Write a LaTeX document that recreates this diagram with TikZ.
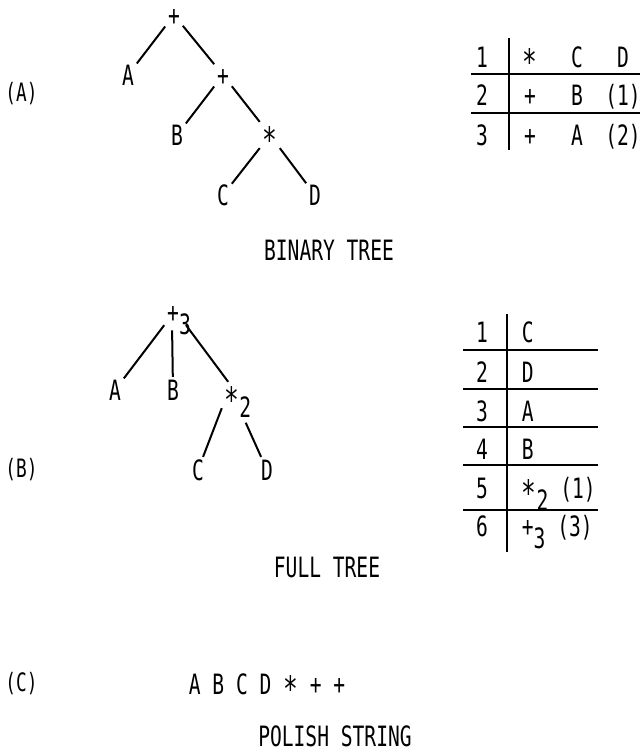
\documentclass[tikz,border=0pt]{standalone}
\usepackage{fontspec}
\setmainfont{DejaVu Sans Mono}[FakeStretch=0.7]
\usetikzlibrary{positioning}

\newcommand{\lowstar}{\raisebox{-0.25em}{\scalebox{1.25}{*}}}
\newcommand{\opsub}[2]{#1\raisebox{-0.43em}{#2}}

\begin{document}
\begin{tikzpicture}[x=0.75pt,y=-0.75pt,
  every node/.style={font=\fontsize{21}{24}\selectfont},
  tnode/.style={inner sep=2pt,text height=15.3pt,text depth=0pt},
  tag/.style={font=\fontsize{19}{22}\selectfont,inner sep=0pt},
  caption/.style={inner sep=1pt,text height=15.3pt,text depth=0pt},
  edge/.style={line width=1.5pt},
  rule/.style={line width=1.2pt}]
\useasboundingbox (0,0) rectangle (640,753);
% (A) binary tree
\node[tag] (la) at (21.5,94) {(A)};
\node[tnode] (ta) at (174,15) {+};
\node[tnode] (ta1) at (128,75) {A};
\node[tnode] (ta2) at (223,75) {+};
\node[tnode] (tb1) at (177,135) {B};
\node[tnode] (tm) at (270,135) {\lowstar};
\node[tnode] (tc1) at (223,195) {C};
\node[tnode] (td1) at (315,195) {D};
\draw[edge] (ta) -- (ta1);
\draw[edge] (ta) -- (ta2);
\draw[edge] (ta2) -- (tb1);
\draw[edge] (ta2) -- (tm);
\draw[edge] (tm) -- (tc1);
\draw[edge] (tm) -- (td1);
% triples table
\draw[rule] (509,38) -- (509,150);
\foreach \y in {74,113} \draw[rule] (471,\y) -- (640,\y);
\foreach \n/\y/\op/\l/\r in {1/57/\lowstar/C/D, 2/95/+/B/(1), 3/135/+/A/(2)} {
  \node[tnode] (sn\n) at (482,\y) {\n};
  \node[tnode] (so\n) at (530,\y) {\op};
  \node[tnode] (sl\n) at (577,\y) {\l};
  \node[tnode] (sr\n) at (623,\y) {\r};
}
\node[caption] (cap1) at (329,250) {BINARY TREE};
% (B) full tree
\node[tag] (lb) at (21.5,470) {(B)};
\node[tnode] (fb) at (179,312) {\opsub{+}{3}};
\node[tnode] (fa1) at (115,390) {A};
\node[tnode] (fb1) at (173,390) {B};
\node[tnode] (fm) at (238,395) {\opsub{\lowstar}{2}};
\node[tnode] (fc1) at (198,470) {C};
\node[tnode] (fd1) at (267,470) {D};
\draw[edge] (fb.south west) -- (fa1);
\draw[edge,shorten <=4pt] (fb.-118) -- (fb1);
\draw[edge] (fb.-62) -- (fm);
\draw[edge] (fm.south west) -- (fc1);
\draw[edge,shorten <=12pt] (fm.-85) -- (fd1);
% full table
\draw[rule] (507,314) -- (507,552);
\foreach \y in {350,389,427,465,510} \draw[rule] (463,\y) -- (598,\y);
\foreach \n/\y/\e in {1/332/C, 2/372/D, 3/411/A, 4/449/B,
    5/488/{\opsub{\lowstar}{2} (1)}, 6/526/{\opsub{+}{3} (3)}} {
  \node[tnode] (fn\n) at (482,\y) {\n};
  \node[tnode,anchor=west] (fe\n) at (519,\y) {\e};
}
\node[caption] (cap2) at (327,567) {FULL TREE};
% (C) polish string
\node[tag] (lc) at (21.5,684) {(C)};
\node[caption] (ps) at (267,684) {A B C D \lowstar{} + +};
\node[caption] (cap3) at (335,736) {POLISH STRING};
\end{tikzpicture}
\end{document}
